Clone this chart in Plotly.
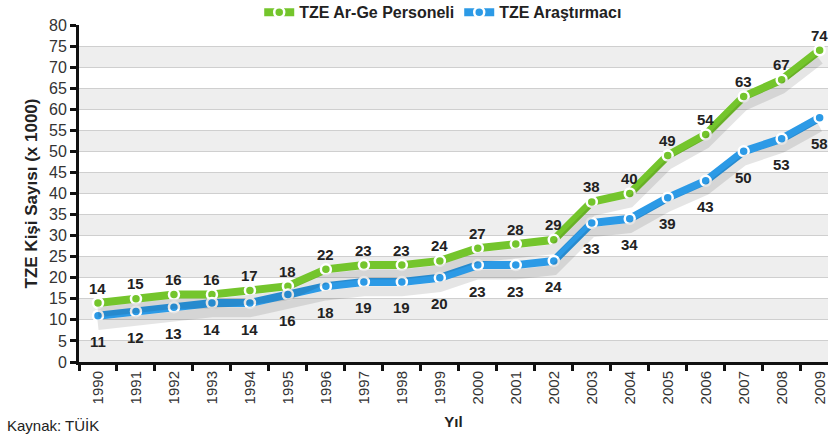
import plotly.graph_objects as go

years = [str(y) for y in range(1990, 2010)]
personel = [14, 15, 16, 16, 17, 18, 22, 23, 23, 24, 27, 28, 29, 38, 40, 49, 54, 63, 67, 74]
arastirmaci = [11, 12, 13, 14, 14, 16, 18, 19, 19, 20, 23, 23, 24, 33, 34, 39, 43, 50, 53, 58]
y_ticks = list(range(0, 85, 5))

GREEN = "#74c52c"
BLUE = "#2c9ae6"
FONT = "Liberation Sans, Arial, sans-serif"

fig = go.Figure()

# shadows (same data drawn on an overlaid axis shifted slightly)
for vals in (arastirmaci, personel):
    fig.add_trace(go.Scatter(x=years, y=vals, mode="lines", yaxis="y2", xaxis="x",
                             line=dict(color="rgba(0,0,0,0.10)", width=10),
                             showlegend=False, hoverinfo="skip"))

fig.add_trace(go.Scatter(x=years, y=personel, mode="lines+markers", name="TZE Ar-Ge Personeli",
                         line=dict(color=GREEN, width=8),
                         marker=dict(size=10, color=GREEN, line=dict(color="white", width=2.5))))
fig.add_trace(go.Scatter(x=years, y=arastirmaci, mode="lines+markers", name="TZE Araştırmacı",
                         line=dict(color=BLUE, width=8),
                         marker=dict(size=10, color=BLUE, line=dict(color="white", width=2.5))))

for i, v in enumerate(personel):
    fig.add_annotation(x=i, y=v, xref="x", yref="y", text="<b>%d</b>" % v, showarrow=False,
                       yshift=15, font=dict(family=FONT, size=15, color="#222"))
for i, v in enumerate(arastirmaci):
    fig.add_annotation(x=i, y=v, xref="x", yref="y", text="<b>%d</b>" % v, showarrow=False,
                       yshift=-26, font=dict(family=FONT, size=15, color="#222"))

# alternating bands
for lo in range(0, 80, 10):
    fig.add_shape(type="rect", xref="paper", yref="y", x0=0, x1=1, y0=lo, y1=lo + 5,
                  fillcolor="#eeeeee", line=dict(width=0), layer="below")

fig.add_annotation(xref="paper", yref="paper", x=-0.099, y=-0.187, xanchor="left", yanchor="middle",
                   text="Kaynak: TÜİK", showarrow=False,
                   font=dict(family=FONT, size=15, color="#222"))

fig.update_layout(
    width=830, height=441,
    margin=dict(l=79, r=2, t=25, b=79, autoexpand=False),
    paper_bgcolor="white", plot_bgcolor="white",
    font=dict(family=FONT, color="#222"),
    showlegend=True,
    legend=dict(orientation="h", x=0.534, xanchor="center", y=0.972, yanchor="middle",
                yref="container", xref="container",
                font=dict(family=FONT, size=16, color="#222", weight="bold"),
                bgcolor="rgba(0,0,0,0)"),
    xaxis=dict(type="category", range=[-0.5, 19.22], tickson="boundaries",
               ticks="outside", ticklen=6, tickwidth=3, tickcolor="#111",
               showline=True, linecolor="#111", linewidth=3, automargin=False,
               tickangle=-90, tickfont=dict(family=FONT, size=15, color="#333"),
               showgrid=False,
               title=dict(text="<b>Yıl</b>", font=dict(family=FONT, size=15, color="#222"), standoff=14)),
    yaxis=dict(range=[0, 80], tickvals=y_ticks, ticks="outside", ticklen=6, tickwidth=3,
               tickcolor="#111", showline=True, linecolor="#111", linewidth=3, automargin=False,
               tickfont=dict(family=FONT, size=16, color="#333"),
               showgrid=True, gridcolor="#cfcfcf", gridwidth=1, zeroline=False,
               title=dict(text="<b>TZE Kişi Sayısı (x 1000)</b>",
                          font=dict(family=FONT, size=17, color="#222"), standoff=8)),
    yaxis2=dict(range=[2.2, 82.2], overlaying="y", showgrid=False, showticklabels=False,
                zeroline=False, showline=False, ticks=""),
)

fig.write_html("out.html", post_script="document.body.style.margin='0';",
               config={"displayModeBar": False})
